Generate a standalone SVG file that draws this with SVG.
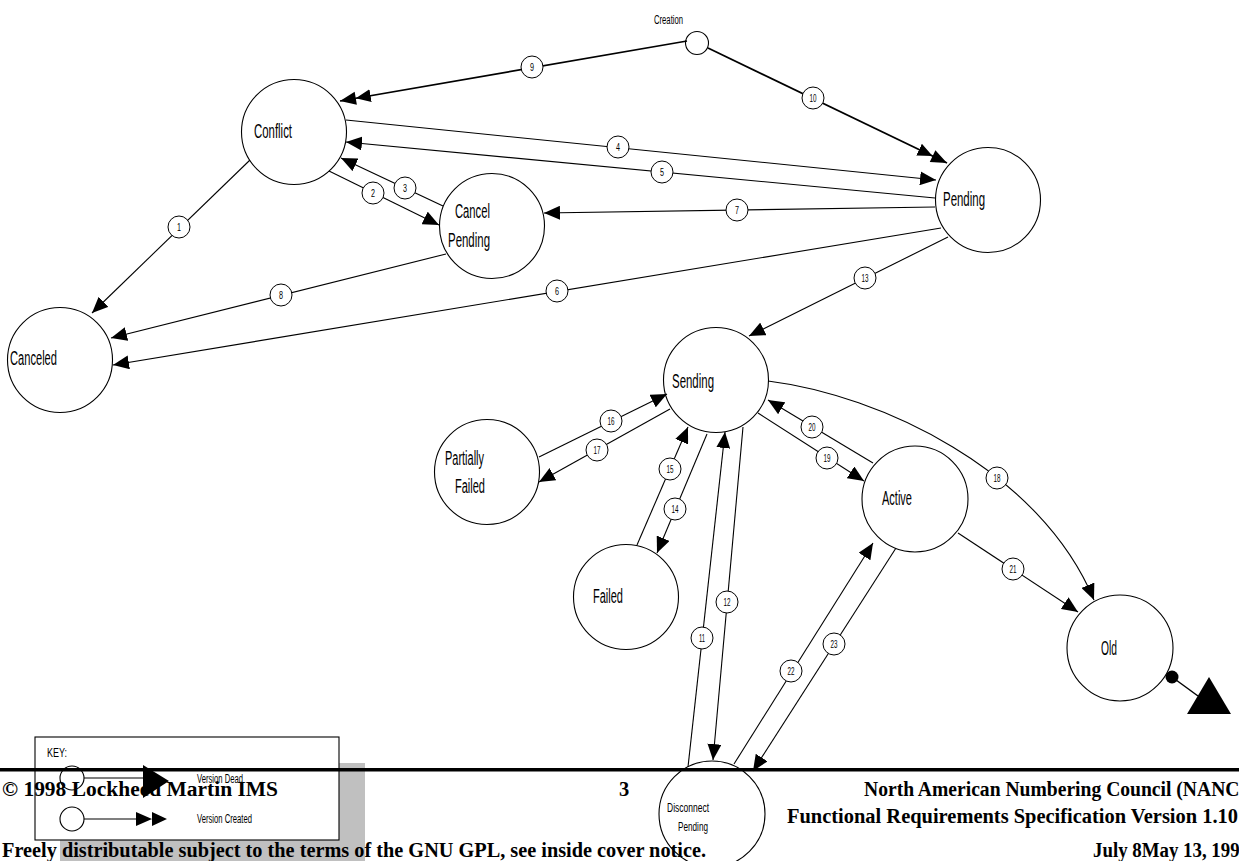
<svg xmlns="http://www.w3.org/2000/svg" width="1239" height="861" viewBox="0 0 1239 861">
<style>
.n{fill:#fff;stroke:#000;stroke-width:1.1}
.t{font-family:"Liberation Sans Narrow","Liberation Sans",Arial,sans-serif;font-size:20px;fill:#000}
.s{font-family:"Liberation Sans Narrow","Liberation Sans",Arial,sans-serif;font-size:12px;fill:#000}
.e{fill:none;stroke:#000;stroke-width:1.1;marker-end:url(#ah)}
.e2{fill:none;stroke:#000;stroke-width:1.7;marker-end:url(#ah2)}
.lc{fill:#fff;stroke:#000;stroke-width:1}
.ln{font-family:"Liberation Sans Narrow","Liberation Sans",Arial,sans-serif;font-size:10px;text-anchor:middle;fill:#000}
.f{font-family:"Liberation Serif","Times New Roman",serif;font-weight:bold;font-size:20.5px;fill:#000}
</style>
<defs>
<marker id="ah" markerUnits="userSpaceOnUse" markerWidth="17" markerHeight="14" refX="16" refY="7" orient="auto"><path d="M0,0 L16,7 L0,14 Z" fill="#000"/></marker>
<marker id="ah2" markerUnits="userSpaceOnUse" markerWidth="32" markerHeight="14" refX="31" refY="7" orient="auto"><path d="M0,0.5 L15,7 L0,13.5 Z M15,0.5 L31,7 L15,13.5 Z" fill="#000"/></marker>
</defs>
<rect x="0" y="0" width="1239" height="861" fill="#fff"/>

<g id="key">
<rect x="60" y="763" width="305" height="110" fill="#c0c0c0"/>
<rect x="35" y="737" width="304" height="103" fill="#fff" stroke="#000" stroke-width="1.1"/>
<text class="s" x="47" y="757" font-size="11" textLength="20" lengthAdjust="spacingAndGlyphs">KEY:</text>
<circle cx="72" cy="778" r="12" class="n"/>
<line x1="84" y1="778" x2="143" y2="778" stroke="#000" stroke-width="1.1"/>
<path d="M143,765 L169,781 L143,798 Z" fill="#000"/>
<text class="s" x="197" y="783" textLength="46" lengthAdjust="spacingAndGlyphs">Version Dead</text>
<circle cx="72" cy="819" r="12" class="n"/>
<line x1="84" y1="819" x2="137" y2="819" stroke="#000" stroke-width="1.1"/>
<path d="M136,812 L152,819 L136,826 Z M152,812 L167,819 L152,826 Z" fill="#000"/>
<text class="s" x="197" y="823" textLength="55" lengthAdjust="spacingAndGlyphs">Version Created</text>
</g>

<g id="node-creation"><circle cx="697" cy="43" r="11.5" class="n"/><text class="s" x="654" y="24" font-size="12.5" textLength="29" lengthAdjust="spacingAndGlyphs">Creation</text></g>
<g id="node-conflict"><circle cx="294" cy="132" r="52.5" class="n"/><text class="t" x="254" y="138" textLength="38" lengthAdjust="spacingAndGlyphs">Conflict</text></g>
<g id="node-pending"><circle cx="988" cy="200" r="52.5" class="n"/><text class="t" x="943" y="206" textLength="42" lengthAdjust="spacingAndGlyphs">Pending</text></g>
<g id="node-cancel-pending"><circle cx="492" cy="226" r="52.5" class="n"/><text class="t" x="455" y="218" textLength="35" lengthAdjust="spacingAndGlyphs">Cancel</text><text class="t" x="448" y="247" textLength="42" lengthAdjust="spacingAndGlyphs">Pending</text></g>
<g id="node-canceled"><circle cx="60" cy="360" r="52.5" class="n"/><text class="t" x="10" y="365" textLength="47" lengthAdjust="spacingAndGlyphs">Canceled</text></g>
<g id="node-sending"><circle cx="716" cy="380" r="52.5" class="n"/><text class="t" x="672" y="388" textLength="42" lengthAdjust="spacingAndGlyphs">Sending</text></g>
<g id="node-partially-failed"><circle cx="487" cy="472" r="52.5" class="n"/><text class="t" x="445" y="465" textLength="39" lengthAdjust="spacingAndGlyphs">Partially</text><text class="t" x="455" y="493" textLength="30" lengthAdjust="spacingAndGlyphs">Failed</text></g>
<g id="node-failed"><circle cx="626" cy="597" r="52.5" class="n"/><text class="t" x="593" y="603" textLength="30" lengthAdjust="spacingAndGlyphs">Failed</text></g>
<g id="node-active"><circle cx="915" cy="499" r="53" class="n"/><text class="t" x="882" y="505" textLength="30" lengthAdjust="spacingAndGlyphs">Active</text></g>
<g id="node-old"><circle cx="1120" cy="648" r="53" class="n"/><text class="t" x="1101" y="655" textLength="16" lengthAdjust="spacingAndGlyphs">Old</text>
<line x1="1172" y1="677" x2="1198" y2="696" stroke="#000" stroke-width="1.5"/>
<circle cx="1172" cy="677" r="6.5" fill="#000"/>
<path d="M1209,677 L1231,714 L1187,714 Z" fill="#000"/></g>
<g id="node-disconnect-pending"><circle cx="712" cy="814" r="53" class="n"/><text class="s" x="667" y="812" font-size="14" textLength="42" lengthAdjust="spacingAndGlyphs">Disconnect</text><text class="s" x="678" y="831" font-size="14" textLength="30" lengthAdjust="spacingAndGlyphs">Pending</text></g>

<g id="connectors">
<path class="e" d="M250,160 L92,313"/>
<path class="e" d="M329,171 L439,225"/>
<path class="e" d="M443,206 L341,158"/>
<path class="e" d="M346,120 L936,180"/>
<path class="e" d="M935,198 L346,142"/>
<path class="e" d="M941,228 L113,365"/>
<path class="e" d="M935,207 L544,213"/>
<path class="e" d="M446,254 L111,338"/>
<path class="e2" d="M687,41 L340,101"/>
<path class="e2" d="M708,48 L947,163"/>
<path class="e" d="M688,767 L725,432"/>
<path class="e" d="M743,427 L713,760"/>
<path class="e" d="M948,237 L749,336"/>
<path class="e" d="M707,434 L657,553"/>
<path class="e" d="M637,545 L688,427"/>
<path class="e" d="M539,457 L667,394"/>
<path class="e" d="M670,409 L539,482"/>
<path class="e" d="M768,381 C880,395 1040,470 1094,600"/>
<path class="e" d="M758,413 L864,481"/>
<path class="e" d="M873,463 L768,400"/>
<path class="e" d="M958,533 L1078,612"/>
<path class="e" d="M734,764 L873,543"/>
<path class="e" d="M896,548 L753,771"/>
<g id="labels">
<circle cx="179" cy="227" r="11" class="lc"/><text class="ln" x="179" y="231" textLength="4" lengthAdjust="spacingAndGlyphs">1</text>
<circle cx="373" cy="193" r="11" class="lc"/><text class="ln" x="373" y="197" textLength="4" lengthAdjust="spacingAndGlyphs">2</text>
<circle cx="405" cy="188" r="11" class="lc"/><text class="ln" x="405" y="192" textLength="4" lengthAdjust="spacingAndGlyphs">3</text>
<circle cx="618" cy="147" r="11" class="lc"/><text class="ln" x="618" y="151" textLength="4" lengthAdjust="spacingAndGlyphs">4</text>
<circle cx="662" cy="172" r="11" class="lc"/><text class="ln" x="662" y="176" textLength="4" lengthAdjust="spacingAndGlyphs">5</text>
<circle cx="557" cy="291" r="11" class="lc"/><text class="ln" x="557" y="295" textLength="4" lengthAdjust="spacingAndGlyphs">6</text>
<circle cx="737" cy="210" r="11" class="lc"/><text class="ln" x="737" y="214" textLength="4" lengthAdjust="spacingAndGlyphs">7</text>
<circle cx="281" cy="295" r="11" class="lc"/><text class="ln" x="281" y="299" textLength="4" lengthAdjust="spacingAndGlyphs">8</text>
<circle cx="532" cy="67" r="11" class="lc"/><text class="ln" x="532" y="71" textLength="4" lengthAdjust="spacingAndGlyphs">9</text>
<circle cx="813" cy="98" r="11" class="lc"/><text class="ln" x="813" y="102" textLength="7" lengthAdjust="spacingAndGlyphs">10</text>
<circle cx="702" cy="638" r="11" class="lc"/><text class="ln" x="702" y="642" textLength="6" lengthAdjust="spacingAndGlyphs">11</text>
<circle cx="727" cy="602" r="11" class="lc"/><text class="ln" x="727" y="606" textLength="7" lengthAdjust="spacingAndGlyphs">12</text>
<circle cx="865" cy="278" r="11" class="lc"/><text class="ln" x="865" y="282" textLength="7" lengthAdjust="spacingAndGlyphs">13</text>
<circle cx="675" cy="509" r="11" class="lc"/><text class="ln" x="675" y="513" textLength="7" lengthAdjust="spacingAndGlyphs">14</text>
<circle cx="670" cy="469" r="11" class="lc"/><text class="ln" x="670" y="473" textLength="7" lengthAdjust="spacingAndGlyphs">15</text>
<circle cx="611" cy="421" r="11" class="lc"/><text class="ln" x="611" y="425" textLength="7" lengthAdjust="spacingAndGlyphs">16</text>
<circle cx="597" cy="450" r="11" class="lc"/><text class="ln" x="597" y="454" textLength="7" lengthAdjust="spacingAndGlyphs">17</text>
<circle cx="997" cy="478" r="11" class="lc"/><text class="ln" x="997" y="482" textLength="7" lengthAdjust="spacingAndGlyphs">18</text>
<circle cx="827" cy="458" r="11" class="lc"/><text class="ln" x="827" y="462" textLength="7" lengthAdjust="spacingAndGlyphs">19</text>
<circle cx="812" cy="427" r="11" class="lc"/><text class="ln" x="812" y="431" textLength="7" lengthAdjust="spacingAndGlyphs">20</text>
<circle cx="1013" cy="569" r="11" class="lc"/><text class="ln" x="1013" y="573" textLength="7" lengthAdjust="spacingAndGlyphs">21</text>
<circle cx="791" cy="671" r="11" class="lc"/><text class="ln" x="791" y="675" textLength="7" lengthAdjust="spacingAndGlyphs">22</text>
<circle cx="834" cy="644" r="11" class="lc"/><text class="ln" x="834" y="648" textLength="7" lengthAdjust="spacingAndGlyphs">23</text>
</g>
</g>

<g id="footer">
<rect x="0" y="768" width="1239" height="3.5" fill="#000"/>
<text class="f" x="2" y="796" textLength="276" lengthAdjust="spacingAndGlyphs">© 1998 Lockheed Martin IMS</text>
<text class="f" x="619" y="796">3</text>
<text class="f" x="864" y="796" textLength="382" lengthAdjust="spacingAndGlyphs">North American Numbering Council (NANC)</text>
<text class="f" x="787" y="823" textLength="451" lengthAdjust="spacingAndGlyphs">Functional Requirements Specification Version 1.10</text>
<text class="f" x="2" y="857" textLength="704" lengthAdjust="spacingAndGlyphs">Freely distributable subject to the terms of the GNU GPL, see inside cover notice.</text>
<text class="f" x="1093" y="857" textLength="156" lengthAdjust="spacingAndGlyphs">July 8May 13, 1998</text>
</g>
</svg>
